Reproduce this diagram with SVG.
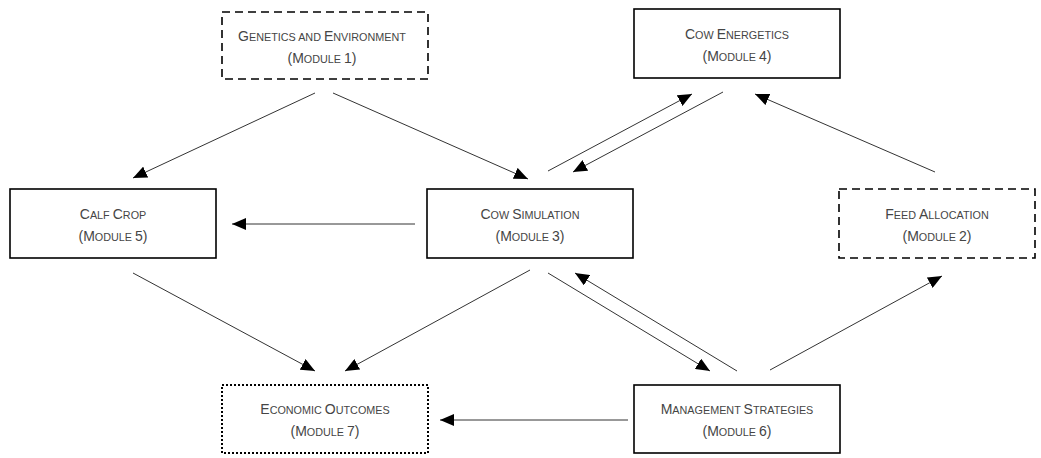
<svg xmlns="http://www.w3.org/2000/svg" width="1041" height="458" viewBox="0 0 1041 458">
<defs>
<marker id="ah" markerWidth="15" markerHeight="12" refX="14" refY="6" orient="auto" markerUnits="userSpaceOnUse">
<path d="M0,0 L14,6 L0,12 z" fill="#000"/>
</marker>
<style>
.box{fill:#fff;stroke:#000;stroke-width:1.6}
.dash{stroke-dasharray:8,5}
.dot{stroke-dasharray:2,2;stroke-width:2}
.t{font-family:"Liberation Sans",Arial,sans-serif;font-size:10.8px;fill:#454545;text-anchor:middle}
.C{font-size:14px}
.c{stroke:#333;stroke-width:1;fill:none;marker-end:url(#ah)}
</style>
</defs>
<rect width="1041" height="458" fill="#fff"/>
<g id="genetics">
<rect class="box dash" x="222" y="12" width="206" height="67"/>
<text class="t" x="322" y="41"><tspan class="C">G</tspan>ENETICS AND <tspan class="C">E</tspan>NVIRONMENT</text>
<text class="t" x="322" y="63"><tspan class="C">(M</tspan>ODULE <tspan class="C">1)</tspan></text>
</g>
<g id="cowenergetics">
<rect class="box" x="634" y="9" width="206" height="69"/>
<text class="t" x="737" y="39"><tspan class="C">C</tspan>OW <tspan class="C">E</tspan>NERGETICS</text>
<text class="t" x="737" y="61"><tspan class="C">(M</tspan>ODULE <tspan class="C">4)</tspan></text>
</g>
<g id="calfcrop">
<rect class="box" x="10" y="189" width="206" height="69"/>
<text class="t" x="113" y="219"><tspan class="C">C</tspan>ALF <tspan class="C">C</tspan>ROP</text>
<text class="t" x="113" y="241"><tspan class="C">(M</tspan>ODULE <tspan class="C">5)</tspan></text>
</g>
<g id="cowsim">
<rect class="box" x="427" y="189" width="206" height="69"/>
<text class="t" x="530" y="219"><tspan class="C">C</tspan>OW <tspan class="C">S</tspan>IMULATION</text>
<text class="t" x="530" y="241"><tspan class="C">(M</tspan>ODULE <tspan class="C">3)</tspan></text>
</g>
<g id="feed">
<rect class="box dash" x="839" y="189" width="196" height="69"/>
<text class="t" x="937" y="219"><tspan class="C">F</tspan>EED <tspan class="C">A</tspan>LLOCATION</text>
<text class="t" x="937" y="241"><tspan class="C">(M</tspan>ODULE <tspan class="C">2)</tspan></text>
</g>
<g id="economic">
<rect class="box dot" x="222" y="385" width="206" height="68"/>
<text class="t" x="325" y="414"><tspan class="C">E</tspan>CONOMIC <tspan class="C">O</tspan>UTCOMES</text>
<text class="t" x="325" y="436"><tspan class="C">(M</tspan>ODULE <tspan class="C">7)</tspan></text>
</g>
<g id="management">
<rect class="box" x="634" y="385" width="206" height="68"/>
<text class="t" x="737" y="414"><tspan class="C">M</tspan>ANAGEMENT <tspan class="C">S</tspan>TRATEGIES</text>
<text class="t" x="737" y="436"><tspan class="C">(M</tspan>ODULE <tspan class="C">6)</tspan></text>
</g>
<g id="connectors">
<line class="c" x1="315" y1="93" x2="133" y2="178"/>
<line class="c" x1="333" y1="93" x2="528" y2="179"/>
<line class="c" x1="548" y1="171" x2="692" y2="94"/>
<line class="c" x1="723" y1="92" x2="573" y2="172"/>
<line class="c" x1="935" y1="172" x2="755" y2="94"/>
<line class="c" x1="415" y1="224" x2="232" y2="224"/>
<line class="c" x1="133" y1="273" x2="315" y2="371"/>
<line class="c" x1="530" y1="270" x2="345" y2="371"/>
<line class="c" x1="548" y1="273" x2="710" y2="371"/>
<line class="c" x1="737" y1="371" x2="575" y2="273"/>
<line class="c" x1="770" y1="370" x2="942" y2="276"/>
<line class="c" x1="628" y1="420" x2="440" y2="420"/>
</g>
</svg>
